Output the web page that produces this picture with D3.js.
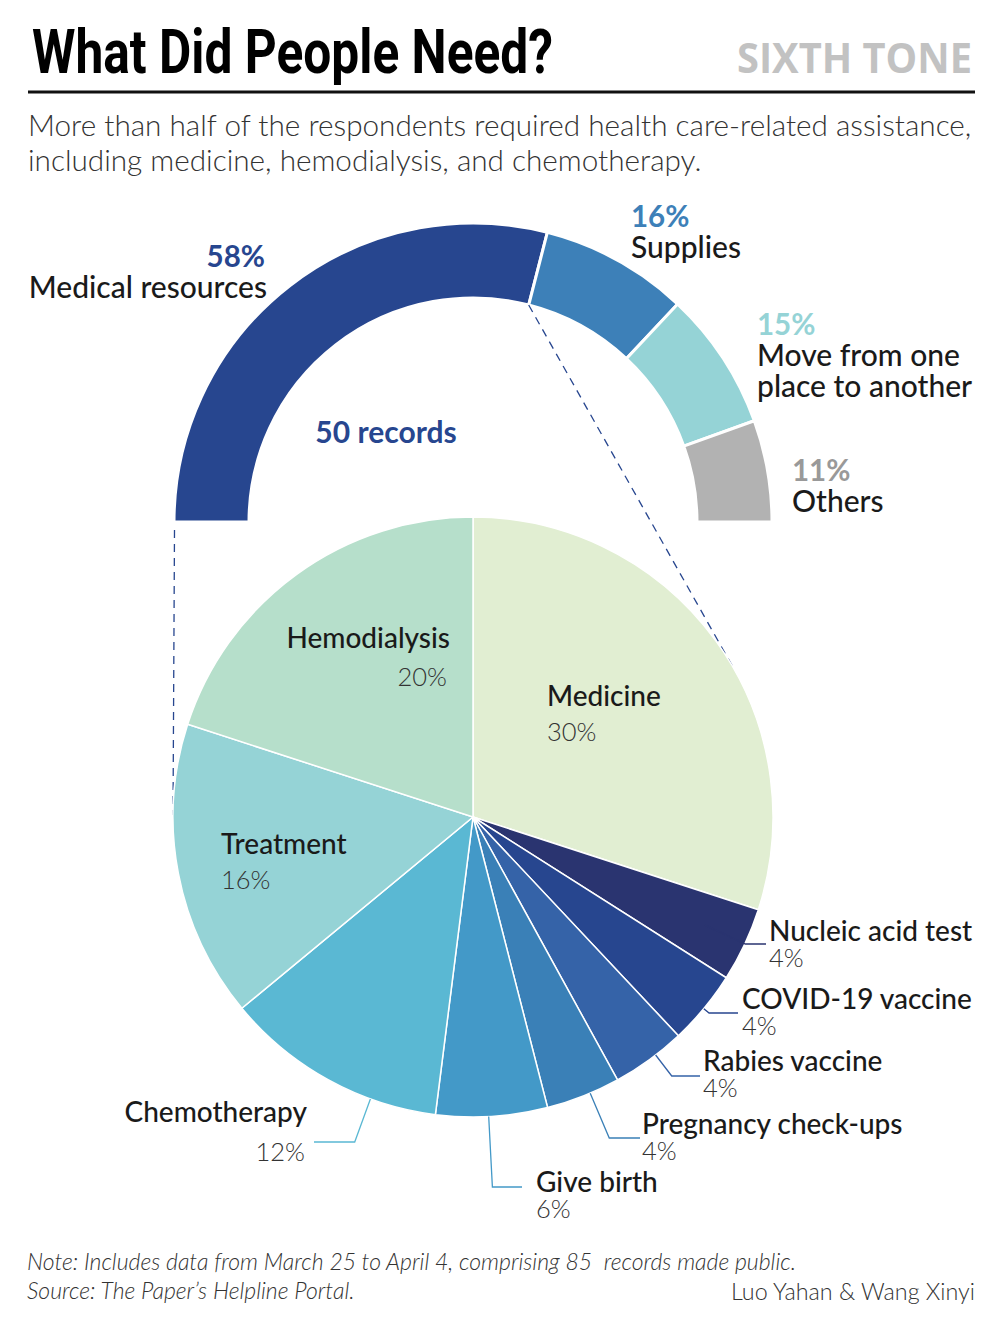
<!DOCTYPE html>
<html><head><meta charset="utf-8">
<script src="https://cdn.jsdelivr.net/npm/d3@7"></script>
<style>
html,body{margin:0;padding:0;background:#fff;}
svg text{font-family:Lato,"Open Sans",sans-serif;}
</style></head>
<body>
<svg id="c" width="1000" height="1326"></svg>
<script>
// ---- data ----
const topCategories = ["Medical resources", "Supplies", "Move from one place to another", "Others"];
const topValues = [58, 16, 15, 11];
const topColors = ["#27468f", "#3d80b8", "#95d3d6", "#b2b2b2"];
const topPctColors = ["#27468f", "#3d80b8", "#95d3d6", "#999999"];

const pieCategories = ["Medicine", "Nucleic acid test", "COVID-19 vaccine", "Rabies vaccine",
  "Pregnancy check-ups", "Give birth", "Chemotherapy", "Treatment", "Hemodialysis"];
const pieValues = [30, 4, 4, 4, 4, 6, 12, 16, 20];
const pieColors = ["#e1eed2", "#2a3470", "#27468f", "#3563a8", "#3a80b7", "#4399c8", "#5ab8d3", "#95d3d6", "#b6dfcb"];

const recordsLabel = "50 records";

// ---- layout ----
const svg = d3.select("#c");
const topC = {x: 473, y: 522}, topRo = 299, topRi = 224;
const pieC = {x: 473, y: 817}, pieR = 300;
const rad = Math.PI / 180;

// header
svg.append("text").attr("x", 32).attr("y", 73)
  .attr("textLength", 521).attr("lengthAdjust", "spacingAndGlyphs")
  .style("font-family", "Roboto, 'Liberation Sans', sans-serif")
  .style("font-weight", 700).style("font-size", "62px").attr("fill", "#000")
  .text("What Did People Need?");
svg.append("text").attr("x", 737).attr("y", 73)
  .attr("textLength", 235).attr("lengthAdjust", "spacingAndGlyphs")
  .style("font-family", "'Open Sans', sans-serif")
  .style("font-weight", 700).style("font-size", "41px").attr("fill", "#c2c2c2")
  .text("SIXTH TONE");
svg.append("line").attr("x1", 28).attr("x2", 975).attr("y1", 92).attr("y2", 92)
  .attr("stroke", "#111").attr("stroke-width", 3);
const subtitle = ["More than half of the respondents required health care-related assistance,",
  "including medicine, hemodialysis, and chemotherapy."];
subtitle.forEach((t, i) => {
  svg.append("text").attr("x", 28).attr("y", 136 + i * 35)
    .style("font-weight", 300).style("font-size", "29.7px").attr("fill", "#333")
    .text(t);
});

// top semicircle
const topPie = d3.pie().sort(null).startAngle(-Math.PI / 2).endAngle(Math.PI / 2);
const topArcs = topPie(topValues);
const topArc = d3.arc().innerRadius(topRi).outerRadius(topRo);
const gTop = svg.append("g").attr("transform", `translate(${topC.x},${topC.y})`);
gTop.selectAll("path").data(topArcs).join("path")
  .attr("d", topArc).attr("fill", (d, i) => topColors[i])
  .attr("stroke", "#fff").attr("stroke-width", 3);

// top labels
const topLabelLayout = [
  {x: 265, y: 267, anchor: "end", lines: ["Medical resources"]},
  {x: 631, y: 227, anchor: "start", lines: ["Supplies"]},
  {x: 757, y: 335, anchor: "start", lines: ["Move from one", "place to another"]},
  {x: 792, y: 481, anchor: "start", lines: ["Others"]}
];
topLabelLayout.forEach((L, i) => {
  const t = svg.append("text").attr("x", L.x).attr("y", L.y).attr("text-anchor", L.anchor);
  t.append("tspan").attr("x", L.x).style("font-weight", 700).style("font-size", "29.5px")
    .attr("fill", topPctColors[i]).text(topValues[i] + "%");
  L.lines.forEach((ln, j) => {
    t.append("tspan").attr("x", L.anchor === "end" ? L.x + 2 : L.x).attr("dy", 31)
      .style("font-weight", 500).style("font-size", "30px").attr("fill", "#1a1a1a").text(ln);
  });
});
svg.append("text").attr("x", 386).attr("y", 443).attr("text-anchor", "middle")
  .style("font-weight", 700).style("font-size", "30px").attr("fill", "#27468f").text(recordsLabel);

// dashed connector lines (tangent lines from semicircle edge to pie)
function tangentPoint(P, side) {
  const dx = P[0] - pieC.x, dy = P[1] - pieC.y;
  const d = Math.hypot(dx, dy);
  const base = Math.atan2(dx, -dy);
  const a = base + side * Math.acos(pieR / d);
  return [pieC.x + pieR * Math.sin(a), pieC.y - pieR * Math.cos(a)];
}
const medEnd = topArcs[0].endAngle;
const pLeft = [topC.x + (topRo - 0.5) * Math.sin(topArcs[0].startAngle), topC.y + 8];
const pRight = [topC.x + topRi * Math.sin(medEnd), topC.y - topRi * Math.cos(medEnd)];
const tL = tangentPoint([topC.x - topRo + 1, topC.y], -1);
const tR = tangentPoint(pRight, 1);
[[pLeft, tL], [pRight, tR]].forEach(([a, b]) => {
  svg.append("line").attr("x1", a[0]).attr("y1", a[1]).attr("x2", b[0]).attr("y2", b[1])
    .attr("stroke", "#27468f").attr("stroke-width", 1.3).attr("stroke-dasharray", "8,6");
});

// pie
const pie = d3.pie().sort(null).startAngle(0).endAngle(2 * Math.PI);
const pieArcs = pie(pieValues);
const arc = d3.arc().innerRadius(0).outerRadius(pieR);
const gPie = svg.append("g").attr("transform", `translate(${pieC.x},${pieC.y})`);
gPie.selectAll("path").data(pieArcs).join("path")
  .attr("d", arc).attr("fill", (d, i) => pieColors[i])
  .attr("stroke", "#fff").attr("stroke-width", 1.5);

// inner labels
const innerLayout = {
  "Medicine": {x: 547, y: 706, anchor: "start"},
  "Hemodialysis": {x: 450, y: 648, anchor: "end"},
  "Treatment": {x: 221, y: 854, anchor: "start"}
};
function labelPair(x, y, anchor, name, pct, gap, pctDx) {
  svg.append("text").attr("x", x).attr("y", y).attr("text-anchor", anchor)
    .style("font-weight", 500).style("font-size", "28px").attr("fill", "#1a1a1a").text(name);
  svg.append("text").attr("x", x + (pctDx || 0)).attr("y", y + gap).attr("text-anchor", anchor)
    .style("font-weight", 300).style("font-size", "25.5px").attr("fill", "#333").text(pct);
}
pieCategories.forEach((c, i) => {
  const L = innerLayout[c];
  if (L) labelPair(L.x, L.y, L.anchor, c, pieValues[i] + "%", c === "Hemodialysis" ? 38 : 35, c === "Hemodialysis" ? -3 : 0);
});

// external labels with leader lines
const outerLayout = {
  "Nucleic acid test":   {ang: 115,   r0: 256, lineY: 944,  endX: 766, tx: 769, ty: 941,  anchor: "start", gap: 26},
  "COVID-19 vaccine":    {ang: 129.7, r0: 300, lineY: 1013, endX: 738, tx: 742, ty: 1009, anchor: "start", gap: 26},
  "Rabies vaccine":      {ang: 142.5, r0: 300, lineY: 1076, endX: 700, tx: 703, ty: 1071, anchor: "start", gap: 26},
  "Pregnancy check-ups": {ang: 157,   r0: 300, lineY: 1138, endX: 640, tx: 642, ty: 1134, anchor: "start", gap: 26},
  "Give birth":          {ang: 177,   r0: 300, lineY: 1187, endX: 522, tx: 536, ty: 1192, anchor: "start", gap: 26},
  "Chemotherapy":        {ang: 200,   r0: 300, lineY: 1142, endX: 314, tx: 307, ty: 1122, anchor: "end",   gap: 39}
};
pieCategories.forEach((c, i) => {
  const L = outerLayout[c];
  if (!L) return;
  const a = L.ang * rad;
  const p0 = [pieC.x + L.r0 * Math.sin(a), pieC.y - L.r0 * Math.cos(a)];
  const t = (L.lineY - pieC.y) / (-Math.cos(a));
  const p1 = [pieC.x + t * Math.sin(a), L.lineY];
  const p2 = [L.endX, L.lineY];
  svg.append("path").attr("d", d3.line()([p0, p1, p2]))
    .attr("fill", "none").attr("stroke", pieColors[i]).attr("stroke-width", 1.3);
  labelPair(L.tx, L.ty, L.anchor, c, pieValues[i] + "%", L.gap, L.anchor === "end" ? -2 : 0);
});

// footer
const notes = ["Note: Includes data from March 25 to April 4, comprising 85\u00a0 records made public.",
  "Source: The Paper\u2019s Helpline Portal."];
notes.forEach((t, i) => {
  svg.append("text").attr("x", 27).attr("y", 1270 + i * 29)
    .style("font-weight", 300).style("font-style", "italic").style("font-size", "23px")
    .attr("fill", "#333").text(t);
});
svg.append("text").attr("x", 975).attr("y", 1300).attr("text-anchor", "end")
  .style("font-weight", 300).style("font-size", "23.3px").attr("fill", "#333")
  .text("Luo Yahan & Wang Xinyi");
</script>
</body></html>
